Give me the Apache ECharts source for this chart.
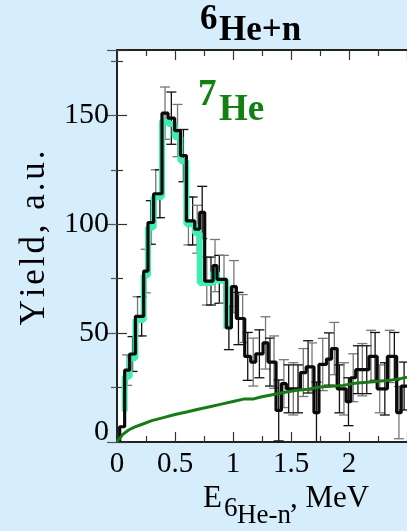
<!DOCTYPE html>
<html><head><meta charset="utf-8">
<script src="https://cdn.jsdelivr.net/npm/echarts@6/dist/echarts.min.js"></script>
<style>html,body{margin:0;padding:0;background:#d6eefc;}#c{width:407px;height:531px;}</style>
</head><body><div id="c"></div>
<script>
// Black histogram: left bin edges (MeV), yields and errors
const binEdges = [0.023,0.066,0.109,0.159,0.195,0.230,0.267,0.316,0.352,0.388,0.440,0.497,0.547,0.598,0.634,0.670,0.713,0.756,0.792,0.828,0.862,0.902,0.943,0.986,1.029,1.065,1.101,1.153,1.196,1.259,1.302,1.336,1.371,1.417,1.460,1.500,1.540,1.581,1.631,1.664,1.698,1.741,1.806,1.849,1.898,1.937,1.976,2.015,2.058,2.096,2.134,2.172,2.207,2.243,2.287,2.331,2.371,2.411,2.450,2.5];
const yields = [7,33,40.4,57.7,57.7,78.5,100.8,114,114,151,148.7,143,131.5,101.5,101.5,97.7,105.4,73.9,73.9,81,74.7,74.7,52.4,71.3,56.7,56.7,39.3,36.7,40.5,45.5,36.7,36.7,14.5,26.8,24.4,24.4,24.4,31.9,34.5,34.5,13.5,35.6,38.1,42.9,24.4,24.4,18.5,29.5,33.2,33.2,33.2,39.3,39.3,24.4,24.4,39.3,39.3,13.5,25.7];
const yieldErrs = [0,7,8,9,9,10,10,11,11,12,12,12,12,11,11,11,12,11,11,12,11,11,10,12,12,11,11,11,11,12,11,12,14,11,11,12,11,11,12,11,14,12,12,12,11,12,11,11,11,12,11,12,11,11,12,12,11,12,11];
// 7He contribution histogram (mint)
const he7Edges = [0.066,0.066,0.109,0.159,0.230,0.267,0.316,0.388,0.440,0.497,0.547,0.598,0.670,0.713,0.828,0.862,0.943,0.986];
const he7Vals = [14,30,38.5,56,76.5,98.5,112.5,147.5,146,140,129,100,96,73,78,74,52];
// background curve
const bgX = [0.0,0.02,0.05,0.1,0.15,0.2,0.3,0.4,0.5,0.6,0.7,0.8,0.9,1.0,1.1,1.17,1.25,1.35,1.45,1.55,1.65,1.75,1.85,1.95,2.05,2.15,2.25,2.35,2.45,2.5];
const bgY = [0,1.5,3.5,5.5,6.8,7.8,9.8,11.2,12.6,13.8,15,16.2,17.4,18.6,19.8,19.7,20.8,21.8,22.8,23.8,24.2,25.3,25.6,26,27,27.4,27.9,28.3,29.2,29.8];
const xTicks = [0,0.5,1,1.5,2];
const yTicks = [0,50,100,150];

const FONT = 'Liberation Serif';
function stepData(edges, vals){
  const d = [];
  for (let i=0;i<vals.length;i++) d.push([edges[i], vals[i]]);
  d.push([edges[vals.length], vals[vals.length-1]]);
  return d;
}
const blackData = [[binEdges[0],0]].concat(stepData(binEdges, yields));
const mintData = [];
for (let i=0;i<he7Vals.length;i++) mintData.push([he7Edges[i], he7Vals[i]]);
const errData = [];
for (let i=0;i<yields.length;i++){
  if (yieldErrs[i] > 0){
    const c = (binEdges[i]+binEdges[i+1])/2;
    errData.push([c, yields[i]-yieldErrs[i], yields[i]+yieldErrs[i], i%2]);
  }
}
const bgData = bgX.map((x,i)=>[x,bgY[i]]);
const spaced = s => s.split('').join('\u200A');

const chart = echarts.init(document.getElementById('c'));
const axisCommonX = {type:'value', min:0, max:2.5, interval:0.5};
chart.setOption({
  backgroundColor:'#d6eefc',
  animation:false,
  grid:{left:117, right:0, top:50, bottom:89, show:true, backgroundColor:'#ffffff', borderWidth:0},
  xAxis:[
    Object.assign({}, axisCommonX, {position:'bottom',
      axisLine:{show:true, onZero:false, lineStyle:{color:'#222', width:2}},
      axisTick:{show:true, inside:true, length:10, lineStyle:{color:'#333', width:1.2}},
      minorTick:{show:true, splitNumber:2, length:6, lineStyle:{color:'#333', width:1.2}},
      splitLine:{show:false},
      axisLabel:{show:true, showMaxLabel:false, margin:8, fontFamily:FONT, fontSize:29, color:'#000',
        formatter:v=> xTicks.indexOf(v)>=0 ? String(v) : ''}
    }),
    Object.assign({}, axisCommonX, {position:'top',
      axisLine:{show:true, onZero:false, lineStyle:{color:'#222', width:2}},
      axisTick:{show:true, inside:true, length:10, lineStyle:{color:'#333', width:1.2}},
      minorTick:{show:true, splitNumber:2, length:6, lineStyle:{color:'#333', width:1.2}},
      splitLine:{show:false}, axisLabel:{show:false}
    })
  ],
  yAxis:[
    {type:'value', min:0, max:180, interval:50, position:'left',
      axisLine:{show:true, onZero:false, lineStyle:{color:'#222', width:2}},
      axisTick:{show:true, inside:true, length:10, lineStyle:{color:'#333', width:1.2}},
      minorTick:{show:true, splitNumber:2, length:6, lineStyle:{color:'#333', width:1.2}},
      splitLine:{show:false},
      axisLabel:{show:true, showMaxLabel:false, margin:8, fontFamily:FONT, fontSize:30, color:'#000',
        formatter:v=> v===0 ? '{z|0}' : (yTicks.indexOf(v)>=0 ? String(v) : ''),
        rich:{z:{fontFamily:FONT, fontSize:30, color:'#000', padding:[0,0,20,0]}}}
    },
    {type:'value', min:0, max:180, interval:50, position:'right',
      axisLine:{show:false},
      axisTick:{show:true, inside:true, length:10, lineStyle:{color:'#555', width:1.2}},
      minorTick:{show:true, splitNumber:2, length:6, lineStyle:{color:'#555', width:1.2}},
      splitLine:{show:false}, axisLabel:{show:false}
    }
  ],
  series:[
    {type:'custom', name:'errors', clip:true, z:2,
      renderItem:function(params, api){
        const x=api.value(0), lo=api.value(1), hi=api.value(2);
        const pl=api.coord([x,lo]), ph=api.coord([x,hi]);
        const col = api.value(3) ? '#777777' : '#111111';
        const cw=5;
        const st={stroke:col, lineWidth:1.3};
        return {type:'group', children:[
          {type:'line', shape:{x1:pl[0],y1:pl[1],x2:ph[0],y2:ph[1]}, style:st},
          {type:'line', shape:{x1:ph[0]-cw,y1:ph[1],x2:ph[0]+cw,y2:ph[1]}, style:st},
          {type:'line', shape:{x1:pl[0]-cw,y1:pl[1],x2:pl[0]+cw,y2:pl[1]}, style:st}
        ]};
      },
      encode:{x:0, y:[1,2]},
      data:errData
    },
    {type:'line', name:'7He', step:'end', data:mintData, symbol:'none', z:3,
      lineStyle:{color:'#3deeb0', width:6}},
    {type:'line', name:'data', step:'end', data:blackData, symbol:'none', z:4,
      lineStyle:{color:'#0a0a0a', width:3.2}},
    {type:'line', name:'background', data:bgData, symbol:'none', z:5, smooth:false,
      lineStyle:{color:'#177a17', width:3}}
  ],
  graphic:[
    {type:'text', style:{x:200, y:20, text:'6', font:'bold 35px "Liberation Serif"', fill:'#000', textVerticalAlign:'middle'}},
    {type:'text', style:{x:219, y:31, text:'He+n', font:'bold 35px "Liberation Serif"', fill:'#000', textVerticalAlign:'middle'}},
    {type:'text', style:{x:198, y:95, text:'7', font:'bold 37px "Liberation Serif"', fill:'#128012', textVerticalAlign:'middle'}},
    {type:'text', style:{x:219, y:110, text:'He', font:'bold 37px "Liberation Serif"', fill:'#128012', textVerticalAlign:'middle'}},
    {type:'text', style:{x:203, y:499, text:'E', font:'31px "Liberation Serif"', fill:'#000', textVerticalAlign:'middle'}},
    {type:'text', style:{x:224, y:509, text:'6', font:'27px "Liberation Serif"', fill:'#000', textVerticalAlign:'middle'}},
    {type:'text', style:{x:237, y:516, text:'He-n', font:'27px "Liberation Serif"', fill:'#000', textVerticalAlign:'middle'}},
    {type:'text', style:{x:290, y:499, text:', MeV', font:'31px "Liberation Serif"', fill:'#000', textVerticalAlign:'middle'}},
    {type:'text', rotation:Math.PI/2, x:35, y:238, style:{x:0, y:0, text:spaced('Yield, a.u.'), font:'35px "Liberation Serif"', fill:'#000', textAlign:'center', textVerticalAlign:'middle'}}
  ]
});
</script></body></html>
